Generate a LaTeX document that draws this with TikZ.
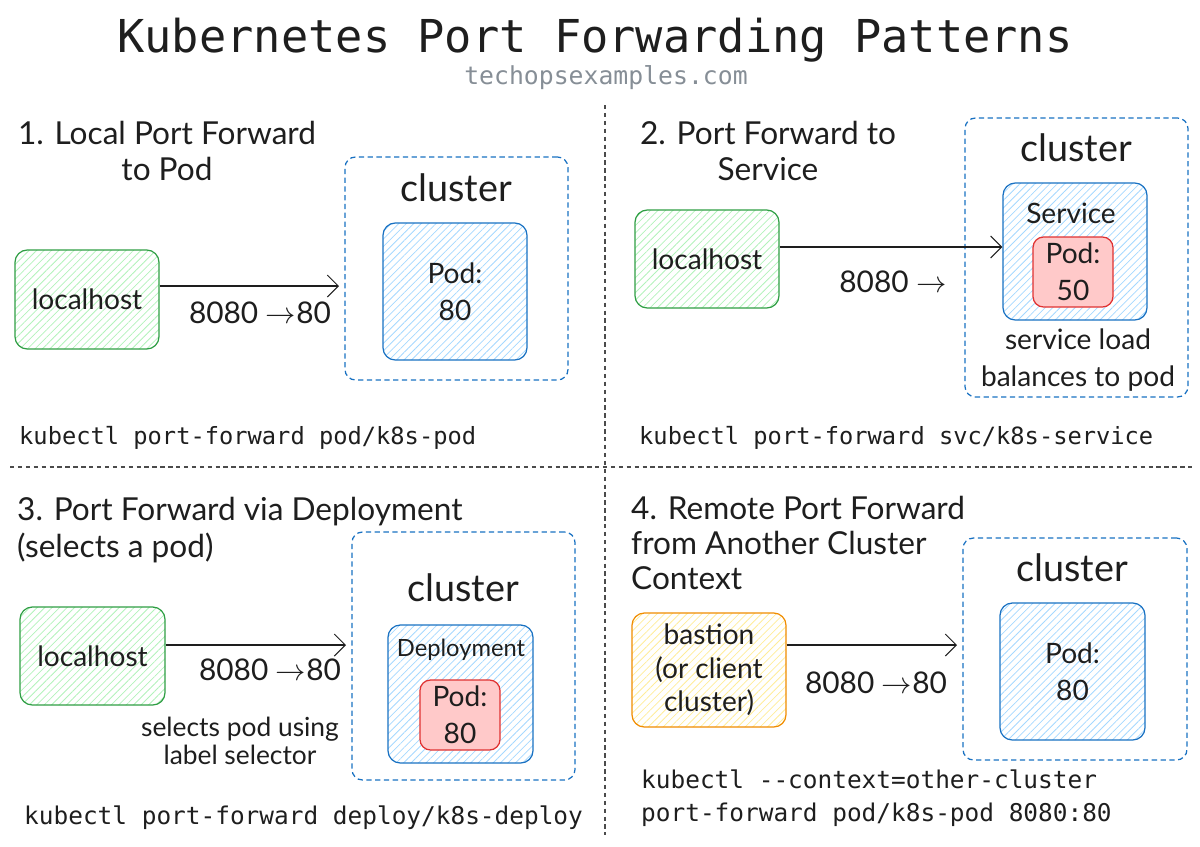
\documentclass[tikz,border=0pt]{standalone}
\usepackage{fontspec}
\setmainfont{Lato}
\setmonofont{DejaVu Sans Mono}
\usetikzlibrary{positioning,arrows.meta,patterns.meta}
\definecolor{ink}{HTML}{1E1E1E}
\definecolor{kblue}{HTML}{1971C2}
\definecolor{kbluehatch}{HTML}{A5D8FF}
\definecolor{kgreen}{HTML}{2F9E44}
\definecolor{kgreenhatch}{HTML}{B2F2BB}
\definecolor{kred}{HTML}{E03131}
\definecolor{kredfill}{HTML}{FFC9C9}
\definecolor{korange}{HTML}{F08C00}
\definecolor{kyellowhatch}{HTML}{FFEC99}
\definecolor{subgray}{HTML}{868E96}
\newcommand{\px}{0.02cm}

\begin{document}
\begin{tikzpicture}[
  x=\px, y=-\px,
  every node/.style={text=ink},
  hatch/.style={pattern={Lines[angle=45,distance=3pt,line width=0.45pt]}},
  cluster/.style={draw=kblue, dashed, dash pattern=on 3pt off 2pt, line width=0.7pt, rounded corners=6pt},
  podbox/.style={draw=kblue, line width=0.7pt, rounded corners=7pt, hatch, pattern color=kbluehatch, align=center, font=\fontsize{16}{21}\selectfont},
  hostbox/.style={draw=kgreen, line width=0.7pt, rounded corners=7pt, hatch, pattern color=kgreenhatch, align=center, font=\fontsize{16}{21}\selectfont},
  bastbox/.style={draw=korange, line width=0.7pt, rounded corners=7pt, hatch, pattern color=kyellowhatch, align=center, font=\fontsize{16}{19}\selectfont},
  redpod/.style={draw=kred, line width=0.7pt, rounded corners=6pt, fill=kredfill, align=center, font=\fontsize{16}{21}\selectfont},
  clabel/.style={font=\fontsize{21.5}{24}\selectfont},
  hand/.style={font=\fontsize{16}{21}\selectfont, align=center},
  heading/.style={font=\fontsize{18}{21}\selectfont},
  cmd/.style={font=\ttfamily\fontsize{13.5}{18.8}\selectfont, anchor=west, align=left},
  arr/.style={-{Straight Barb[length=2.2mm]}, ink, line width=0.6pt},
  divider/.style={ink!80, dashed, dash pattern=on 2.5pt off 2pt, line width=0.6pt}
]
\useasboundingbox (0,0) rectangle (1200,846);

% title
\node[font=\ttfamily\fontsize{25.8}{30}\selectfont] (title) at (595,40) {Kubernetes Port Forwarding Patterns};
\node[font=\ttfamily\fontsize{14.1}{17}\selectfont, text=subgray] (site) at (606,78) {techopsexamples.com};

% dividers
\draw[divider] (605,105) -- (605,835);
\draw[divider] (10,467) -- (1195,467);

% 1. local port forward to pod
\node[heading, align=center] (head1) at (167,151) {1. Local Port Forward\\to Pod};
\node[cluster, minimum width=223*\px, minimum height=223*\px] (cl1) at (456.5,268.5) {};
\node[clabel] (cl1lab) at (456,188) {cluster};
\node[podbox, minimum width=144*\px, minimum height=137*\px] (pod1) at (455,291.5) {Pod:\\80};
\node[hostbox, minimum width=144*\px, minimum height=99*\px] (host1) at (87,299.5) {localhost};
\coordinate (in1) at (339,286);
\draw[arr] (host1.east |- in1) -- (in1);
\node[hand, font=\fontsize{17}{21}\selectfont] (port1) at (260,313) {8080 $\rightarrow$80};
\node[cmd] (cmd1) at (13,438) {kubectl port-forward pod/k8s-pod};

% 2. port forward to service
\node[heading, align=center] (head2) at (768,151) {2. Port Forward to\\Service};
\node[cluster, minimum width=223*\px, minimum height=279*\px] (cl2) at (1076.5,257.5) {};
\node[clabel] (cl2lab) at (1076,148) {cluster};
\node[podbox, minimum width=144*\px, minimum height=137*\px] (svc2) at (1075,251.5) {};
\node[hand] (svclab) at (1071,213) {Service};
\node[redpod, minimum width=80*\px, minimum height=70*\px] (pod2) at (1073,272) {Pod:\\50};
\node[hand] (lbnote) at (1078,360) {service load\\balances to pod};
\node[hostbox, minimum width=144*\px, minimum height=98*\px] (host2) at (707,259) {localhost};
\coordinate (in2) at (svc2.west |- 0,247);
\draw[arr] (host2.east |- in2) -- (in2);
\node[hand, font=\fontsize{17}{21}\selectfont] (port2) at (893,282) {8080 $\rightarrow$};
\node[cmd] (cmd2) at (633,438) {kubectl port-forward svc/k8s-service};

% 3. port forward via deployment
\node[heading, align=left, anchor=west] (head3) at (11,530) {3. Port Forward via Deployment\\(selects a pod)};
\node[cluster, minimum width=223*\px, minimum height=248*\px] (cl3) at (463.5,656) {};
\node[clabel] (cl3lab) at (463,588) {cluster};
\node[podbox, minimum width=145*\px, minimum height=138*\px] (dep3) at (460.5,694) {};
\node[hand, font=\fontsize{13.5}{18}\selectfont] (deplab) at (461,650) {Deployment};
\node[redpod, minimum width=80*\px, minimum height=70*\px] (pod3) at (460,715) {Pod:\\80};
\node[hostbox, minimum width=145*\px, minimum height=98*\px] (host3) at (92.5,656) {localhost};
\coordinate (in3) at (346,645);
\draw[arr] (host3.east |- in3) -- (in3);
\node[hand, font=\fontsize{17}{21}\selectfont] (port3) at (270,670) {8080 $\rightarrow$80};
\node[hand, font=\fontsize{15}{16}\selectfont] (selnote) at (240,741) {selects pod using\\label selector};
\node[cmd, font=\ttfamily\fontsize{13.9}{18.8}\selectfont] (cmd3) at (18,818) {kubectl port-forward deploy/k8s-deploy};

% 4. remote port forward
\node[heading, align=left, anchor=west, font=\fontsize{18}{20}\selectfont] (head4) at (625,543) {4. Remote Port Forward\\from Another Cluster\\Context};
\node[cluster, minimum width=224*\px, minimum height=222*\px] (cl4) at (1075,649) {};
\node[clabel] (cl4lab) at (1072,568) {cluster};
\node[podbox, minimum width=145*\px, minimum height=137*\px] (pod4) at (1072.5,671.5) {Pod:\\80};
\node[bastbox, minimum width=154*\px, minimum height=114*\px] (bast4) at (709,670) {bastion\\(or client\\cluster)};
\coordinate (in4) at (957,645);
\draw[arr] (bast4.east |- in4) -- (in4);
\node[hand, font=\fontsize{17}{21}\selectfont] (port4) at (876,683) {8080 $\rightarrow$80};
\node[cmd, font=\ttfamily\fontsize{13.9}{18.8}\selectfont] (cmd4) at (635,798) {kubectl --context=other-cluster\\port-forward pod/k8s-pod 8080:80};
\end{tikzpicture}
\end{document}
